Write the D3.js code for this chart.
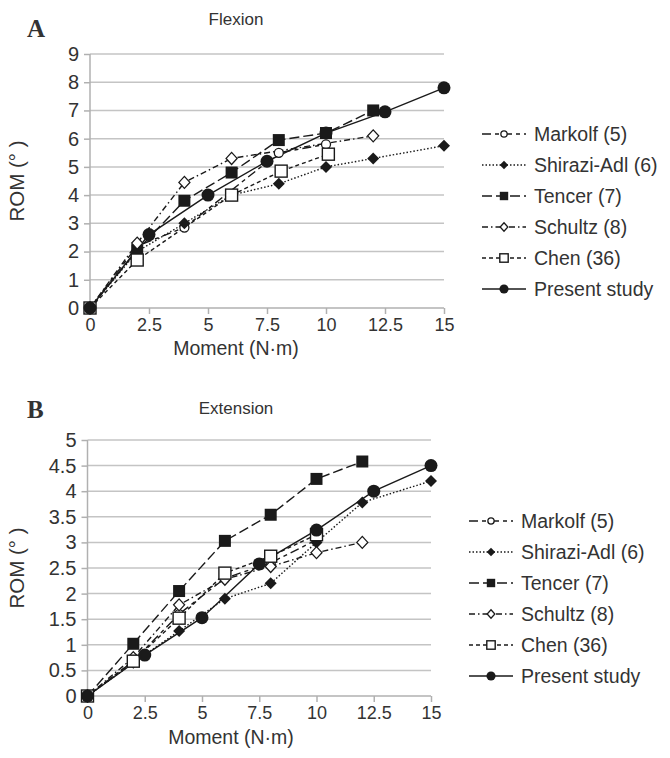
<!DOCTYPE html>
<html><head><meta charset="utf-8">
<script src="https://cdn.jsdelivr.net/npm/d3@7"></script>
<style>body{margin:0;background:#fff}svg{display:block}text{font-family:Arial,"Liberation Sans",sans-serif;fill:#333}</style>
</head><body><svg id="c" width="670" height="758"></svg>
<script>
// ---- Data ----
const seriesNames = ["Markolf (5)", "Shirazi-Adl (6)", "Tencer (7)", "Schultz (8)", "Chen (36)", "Present study"];
const xTicks = [0, 2.5, 5, 7.5, 10, 12.5, 15];
const flexYTicks = [0,1,2,3,4,5,6,7,8,9];
const extYTicks = [0,0.5,1,1.5,2,2.5,3,3.5,4,4.5,5];

const flexMarkolf  = [[0,0],[2,2.2],[4,2.85],[8,5.5],[10,5.8]];
const flexShirazi  = [[0,0],[2,2.0],[4,3.0],[6,4.0],[8,4.4],[10,5.0],[12,5.3],[15,5.75]];
const flexTencer   = [[0,0],[2,2.05],[4,3.8],[6,4.8],[8,5.95],[10,6.2],[12,7.0]];
const flexSchultz  = [[0,0],[2,2.3],[4,4.45],[6,5.3],[12,6.1]];
const flexChen     = [[0,0],[2,1.7],[6,4.0],[8.1,4.85],[10.1,5.45]];
const flexPresent  = [[0,0],[2.5,2.6],[5,4.0],[7.5,5.2],[10,6.2],[12.5,6.95],[15,7.8]];

const extMarkolf   = [[0,0],[2,0.68],[4,1.6],[6,2.3],[8,2.6],[10,3.05]];
const extShirazi   = [[0,0],[2,0.65],[4,1.27],[6,1.9],[8,2.2],[10,3.0],[12,3.78],[15,4.2]];
const extTencer    = [[0,0],[2,1.02],[4,2.05],[6,3.03],[8,3.54],[10,4.24],[12,4.58]];
const extSchultz   = [[0,0],[2,0.75],[4,1.78],[6,2.28],[8,2.53],[10,2.8],[12,3.0]];
const extChen      = [[0,0],[2,0.68],[4,1.52],[6,2.4],[8,2.73],[10,3.15]];
const extPresent   = [[0,0],[2.5,0.8],[5,1.53],[7.5,2.58],[10,3.24],[12.5,4.0],[15,4.5]];

// ---- Styles ----
const styles = [
  {dash:"9,4,4,4", marker:"circleOpen"},
  {dash:"1.5,2", marker:"diamondFilled"},
  {dash:"10,4", marker:"squareFilled"},
  {dash:"6,3,1.5,3", marker:"diamondOpen"},
  {dash:"4,3", marker:"squareOpen"},
  {dash:null, marker:"circleFilled"}
];
const ink = "#1a1a1a";
const svg = d3.select("#c");

function drawMarker(g, type, x, y, scale=1){
  const s = scale;
  if(type==="circleOpen") g.append("circle").attr("cx",x).attr("cy",y).attr("r",4.5*s).attr("fill","#fff").attr("stroke",ink).attr("stroke-width",1.3);
  else if(type==="circleFilled") g.append("circle").attr("cx",x).attr("cy",y).attr("r",6.5*s).attr("fill",ink);
  else if(type==="squareFilled") g.append("rect").attr("x",x-6*s).attr("y",y-6*s).attr("width",12*s).attr("height",12*s).attr("fill",ink);
  else if(type==="squareOpen") g.append("rect").attr("x",x-6*s).attr("y",y-6*s).attr("width",12*s).attr("height",12*s).attr("fill","#fff").attr("stroke",ink).attr("stroke-width",1.4);
  else if(type==="diamondFilled") g.append("path").attr("d",`M${x},${y-6*s}L${x+6*s},${y}L${x},${y+6*s}L${x-6*s},${y}Z`).attr("fill",ink);
  else if(type==="diamondOpen") g.append("path").attr("d",`M${x},${y-6*s}L${x+5.5*s},${y}L${x},${y+6*s}L${x-5.5*s},${y}Z`).attr("fill","#fff").attr("stroke",ink).attr("stroke-width",1.3);
}

function panel(cfg){
  const {x0,x1,y0,y1,yMax,yTicks,yFmt,data,title,letter,titleY,letterY,legendX,legendY,xLabelY,yLabelX,titleX,xLabelX} = cfg;
  const x = d3.scaleLinear().domain([0,15]).range([x0,x1]);
  const y = d3.scaleLinear().domain([0,yMax]).range([y0,y1]);
  const g = svg.append("g");
  // gridlines
  g.append("g").selectAll("line").data(yTicks.filter(t=>t>0)).join("line")
    .attr("x1",x0).attr("x2",x1).attr("y1",d=>y(d)).attr("y2",d=>y(d))
    .attr("stroke","#c4c4c4").attr("stroke-width",1.5);
  // y axis
  const ya = g.append("g").attr("transform",`translate(${x0},0)`)
    .call(d3.axisLeft(y).tickValues(yTicks).tickFormat(yFmt).tickSize(6).tickPadding(5));
  ya.select(".domain").attr("stroke","#b0b0b0").attr("stroke-width",1.5).attr("d",`M-0,${y0}V${y(yMax)}`);
  ya.selectAll(".tick line").attr("stroke","#b0b0b0").attr("stroke-width",1.5);
  ya.selectAll(".tick text").attr("font-size",20).attr("fill","#333").attr("font-family","Arial, 'Liberation Sans', sans-serif");
  // x axis
  const xa = g.append("g").attr("transform",`translate(0,${y0})`)
    .call(d3.axisBottom(x).tickValues(xTicks).tickFormat(d=>String(d)).tickSize(6).tickPadding(4));
  xa.select(".domain").attr("stroke","#b0b0b0").attr("stroke-width",1.5).attr("d",`M${x0},0H${x1}`);
  xa.selectAll(".tick line").attr("stroke","#b0b0b0").attr("stroke-width",1.5);
  xa.selectAll(".tick text").attr("font-size",18).attr("fill","#333").attr("font-family","Arial, 'Liberation Sans', sans-serif");
  // titles
  g.append("text").attr("x",titleX).attr("y",titleY).attr("text-anchor","middle").attr("font-size",17).text(title);
  g.append("text").attr("x",27).attr("y",letterY).attr("font-size",25).attr("font-weight","bold")
    .style("font-family","'Liberation Serif','DejaVu Serif',serif").attr("fill","#222").text(letter);
  g.append("text").attr("x",xLabelX).attr("y",xLabelY).attr("text-anchor","middle").attr("font-size",19.5).text("Moment (N\u00b7m)");
  g.append("text").attr("transform",`translate(${yLabelX},${(y0+y(yMax))/2}) rotate(-90)`).attr("text-anchor","middle").attr("font-size",20.5).text("ROM (\u00b0 )");
  // lines
  const line = d3.line().x(d=>x(d[0])).y(d=>y(d[1]));
  data.forEach((ser,i)=>{
    g.append("path").attr("d",line(ser)).attr("fill","none").attr("stroke",ink).attr("stroke-width",1.4)
      .attr("stroke-dasharray",styles[i].dash);
  });
  data.forEach((ser,i)=>{
    const mg = g.append("g");
    ser.forEach(d=>drawMarker(mg, styles[i].marker, x(d[0]), y(d[1])));
  });
  // legend
  const lg = g.append("g");
  seriesNames.forEach((n,i)=>{
    const ly = legendY + i*31;
    lg.append("line").attr("x1",legendX).attr("x2",legendX+44).attr("y1",ly).attr("y2",ly)
      .attr("stroke",ink).attr("stroke-width",1.4).attr("stroke-dasharray",styles[i].dash);
    drawMarker(lg, styles[i].marker, legendX+22, ly, 0.7);
    lg.append("text").attr("x",legendX+52).attr("y",ly+7).attr("font-size",19.5).text(n);
  });
}

panel({x0:90,x1:444,y0:308,y1:54,yMax:9,yTicks:flexYTicks,yFmt:d=>String(d),
  data:[flexMarkolf,flexShirazi,flexTencer,flexSchultz,flexChen,flexPresent],
  title:"Flexion",letter:"A",titleY:25,letterY:37,legendX:482,legendY:134,xLabelY:355,yLabelX:24,titleX:236,xLabelX:236});
panel({x0:87.5,x1:431,y0:696,y1:440,yMax:5,yTicks:extYTicks,yFmt:d=>String(d),
  data:[extMarkolf,extShirazi,extTencer,extSchultz,extChen,extPresent],
  title:"Extension",letter:"B",titleY:414,letterY:418,legendX:469,legendY:521,xLabelY:744,yLabelX:24,titleX:236,xLabelX:231});
</script></body></html>
